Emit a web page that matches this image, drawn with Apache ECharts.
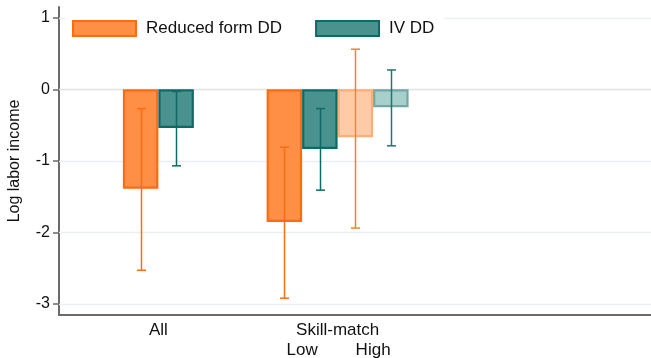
<!DOCTYPE html>
<html>
<head>
<meta charset="utf-8">
<script src="https://cdn.jsdelivr.net/npm/echarts@6/dist/echarts.min.js"></script>
<style>
html,body{margin:0;padding:0;background:#fff;}
#chart{width:651px;height:358px;}
</style>
</head>
<body>
<div id="chart"></div>
<script>
// ---- data ----
const categories = ['All', 'Skill-match'];
const subLabels = ['Low', 'High'];
const seriesNames = ['Reduced form DD', 'IV DD'];
const rfValues = [-1.39, -1.855, -0.67];
const rfLower  = [-2.53, -2.92, -1.94];
const rfUpper  = [-0.27, -0.81, 0.56];
const ivValues = [-0.54, -0.835, -0.25];
const ivLower  = [-1.07, -1.41, -0.79];
const ivUpper  = [-0.03, -0.27, 0.27];
const yTicks = [1, 0, -1, -2, -3];

// ---- layout (bar width = 1 axis unit) ----
const slotLeft = [1.8, 5.85, 7.85];   // All, Skill-match Low, Skill-match High
const lightFlag = [0, 0, 1];
const X_MAX = 16.68;
const Y_MIN = -3.155, Y_MAX = 1.15;

const styles = {
  rf: {fill: '#FF8F45', stroke: '#FF6B10', lightFill: '#FFCBA6', lightStroke: '#FFAE76', err: '#FF6B10', lightErr: '#FF7F2A'},
  iv: {fill: '#4A928E', stroke: '#0D6A66', lightFill: '#A9CFCD', lightStroke: '#6FA8A5', err: '#0D6A66', lightErr: '#1B7773'}
};

function buildData(vals, lo, hi, offset) {
  return vals.map((v, i) => [slotLeft[i] + offset, v, lo[i], hi[i], lightFlag[i]]);
}

function makeRender(st) {
  return function (params, api) {
    const x = api.value(0), v = api.value(1), lo = api.value(2), hi = api.value(3), light = api.value(4);
    const a = api.coord([x - 0.5, 0]);
    const b = api.coord([x + 0.5, v]);
    const lw = 2.2;
    const top = Math.min(a[1], b[1]), h = Math.abs(b[1] - a[1]);
    const pl = api.coord([x, lo]), ph = api.coord([x, hi]);
    const cx = Math.round(pl[0]) + 0.5;
    const errColor = light ? st.lightErr : st.err;
    const cap = 4.5;
    return {
      type: 'group',
      children: [
        {type: 'rect', shape: {x: a[0] + lw / 2, y: top + lw / 2, width: (b[0] - a[0]) - lw, height: h - lw},
         style: {fill: light ? st.lightFill : st.fill, stroke: light ? st.lightStroke : st.stroke, lineWidth: lw}},
        {type: 'line', shape: {x1: cx, y1: pl[1], x2: cx, y2: ph[1]}, style: {stroke: errColor, lineWidth: 1.5}},
        {type: 'line', shape: {x1: cx - cap, y1: pl[1], x2: cx + cap, y2: pl[1]}, style: {stroke: errColor, lineWidth: 1.5}},
        {type: 'line', shape: {x1: cx - cap, y1: ph[1], x2: cx + cap, y2: ph[1]}, style: {stroke: errColor, lineWidth: 1.5}}
      ]
    };
  };
}

const xLabelPos = [slotLeft[0] + 1, slotLeft[1] + 2];
const xSubPos = [slotLeft[1] + 1, slotLeft[2] + 1];
function nearestLabel(v, pos, labels) {
  let best = 0;
  for (let i = 1; i < pos.length; i++) if (Math.abs(pos[i] - v) < Math.abs(pos[best] - v)) best = i;
  return labels[best];
}

const FONT = 'Liberation Sans, Arial, sans-serif';
const chart = echarts.init(document.getElementById('chart'), null, {renderer: 'canvas'});
chart.setOption({
  animation: false,
  backgroundColor: '#fff',
  grid: {left: 59, right: 0, top: 7, bottom: 43, containLabel: false, outerBoundsMode: 'none'},
  legend: {
    left: 65, top: 8,
    padding: [12, 10, 10, 7],
    backgroundColor: '#fff',
    itemWidth: 63, itemHeight: 15, itemGap: 33,
    textStyle: {fontFamily: FONT, fontSize: 17, color: '#111', padding: [0, 0, 0, 5]},
    icon: 'rect',
    z: 10,
    data: [
      {name: seriesNames[0], itemStyle: {color: styles.rf.fill, borderColor: styles.rf.stroke, borderWidth: 2}},
      {name: seriesNames[1], itemStyle: {color: styles.iv.fill, borderColor: styles.iv.stroke, borderWidth: 2}}
    ]
  },
  xAxis: [
    {type: 'value', min: 0, max: X_MAX, position: 'bottom',
     axisLine: {show: true, onZero: false, lineStyle: {color: '#6a6a6a', width: 2}},
     axisTick: {show: false}, splitLine: {show: false},
     axisLabel: {customValues: xLabelPos, margin: 7, fontFamily: FONT, fontSize: 17, color: '#111',
       formatter: v => nearestLabel(v, xLabelPos, categories)}},
    {type: 'value', min: 0, max: X_MAX, position: 'bottom', offset: 20,
     axisLine: {show: false}, axisTick: {show: false}, splitLine: {show: false},
     axisLabel: {customValues: xSubPos, margin: 7, fontFamily: FONT, fontSize: 17, color: '#111',
       formatter: v => nearestLabel(v, xSubPos, subLabels)}}
  ],
  yAxis: {
    type: 'value', min: Y_MIN, max: Y_MAX,
    name: 'Log labor income', nameLocation: 'middle', nameGap: 36, nameRotate: 90,
    nameTextStyle: {fontFamily: FONT, fontSize: 16, color: '#111'},
    axisLine: {show: true, onZero: false, lineStyle: {color: '#6a6a6a', width: 2}},
    axisTick: {show: true, customValues: yTicks, length: 6, lineStyle: {color: '#6a6a6a', width: 1.5}},
    axisLabel: {customValues: yTicks, margin: 9, fontFamily: FONT, fontSize: 16, color: '#111'},
    splitLine: {show: false}
  },
  series: [
    {
      type: 'custom', name: 'grid', silent: true, z: 1, xAxisIndex: 0,
      data: yTicks.map(t => [t]),
      encode: {y: 0},
      renderItem: function (params, api) {
        const t = api.value(0);
        const p1 = api.coord([0, t]), p2 = api.coord([X_MAX, t]);
        const y = Math.round(p1[1]) + 0.5;
        return {type: 'line', shape: {x1: p1[0], y1: y, x2: p2[0], y2: y},
                style: {stroke: t === 0 ? '#e2e2e2' : '#eaf0f2', lineWidth: 1.5}};
      }
    },
    {
      type: 'custom', name: seriesNames[0], z: 3, xAxisIndex: 0,
      itemStyle: {color: styles.rf.fill},
      data: buildData(rfValues, rfLower, rfUpper, 0.5),
      encode: {x: 0, y: [1, 2, 3]},
      renderItem: makeRender(styles.rf)
    },
    {
      type: 'custom', name: seriesNames[1], z: 3, xAxisIndex: 0,
      itemStyle: {color: styles.iv.fill},
      data: buildData(ivValues, ivLower, ivUpper, 1.5),
      encode: {x: 0, y: [1, 2, 3]},
      renderItem: makeRender(styles.iv)
    }
  ]
});
</script>
</body>
</html>
